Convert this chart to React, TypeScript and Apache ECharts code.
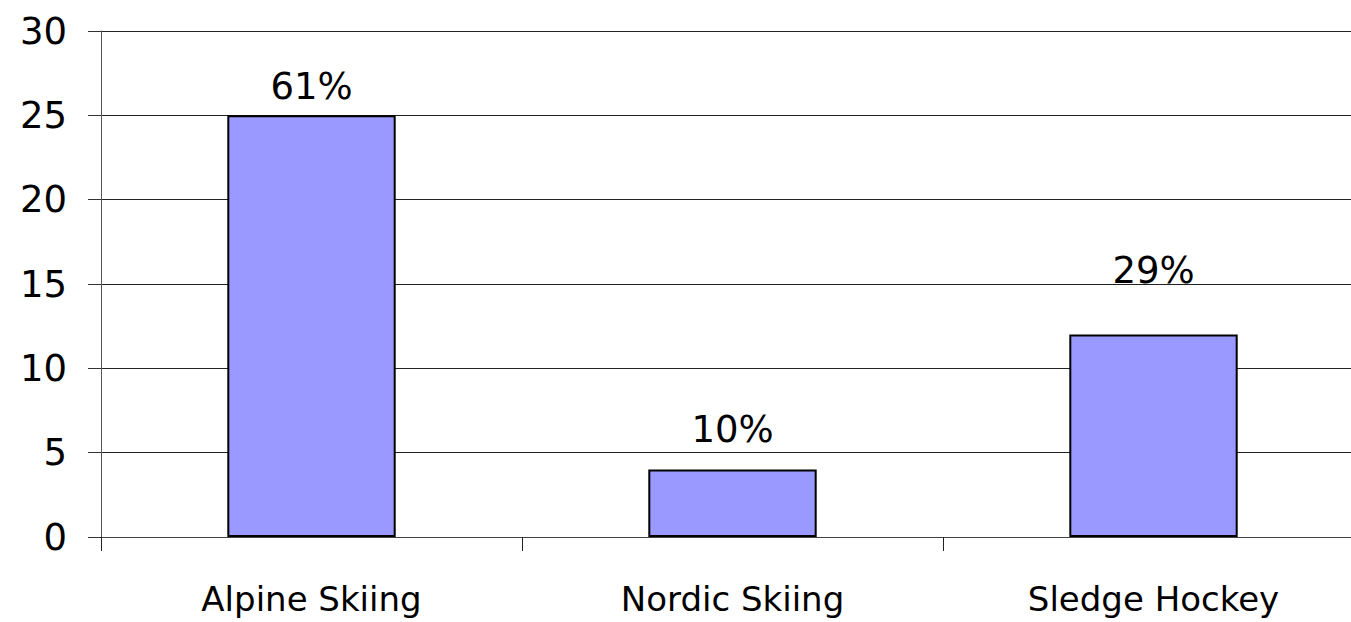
import React, { useEffect, useRef } from "react";
import * as echarts from "echarts";

const categories = ["Alpine Skiing", "Nordic Skiing", "Sledge Hockey"];
const values = [25, 4, 12];
const shareLabels = ["61%", "10%", "29%"];
const labelGaps = [10, 22, 46];
const yTicks = { min: 0, max: 30, interval: 5 };

export default function App() {
  const ref = useRef<HTMLDivElement>(null);
  useEffect(() => {
    if (!ref.current) return;
    const chart = echarts.init(ref.current, undefined, { renderer: "svg" });
    const font = "'DejaVu Sans', Verdana, sans-serif";
    chart.setOption({
      animation: false,
      backgroundColor: "#ffffff",
      grid: {
        left: 101,
        right: -13,
        top: 31,
        bottom: 85,
        outerBoundsMode: "none",
        containLabel: false,
      },
      xAxis: {
        type: "category",
        data: categories,
        boundaryGap: true,
        axisLine: { show: true, lineStyle: { color: "#444", width: 1 } },
        axisTick: { show: true, alignWithLabel: false, length: 14, lineStyle: { color: "#222" } },
        axisLabel: {
          color: "#000",
          fontFamily: font,
          fontSize: 34,
          margin: 45,
          interval: 0,
        },
        splitLine: { show: false },
      },
      yAxis: {
        type: "value",
        min: yTicks.min,
        max: yTicks.max,
        interval: yTicks.interval,
        axisLine: { show: true, lineStyle: { color: "#555", width: 1 } },
        axisTick: { show: true, inside: false, length: 13, lineStyle: { color: "#333" } },
        axisLabel: {
          color: "#000",
          fontFamily: font,
          fontSize: 37,
          margin: 34,
        },
        splitLine: { show: true, lineStyle: { color: "#222", width: 1 } },
      },
      series: [
        {
          type: "bar",
          barWidth: "40%",
          data: values.map((v, i) => ({
            value: v,
            label: {
              show: true,
              position: "top",
              distance: labelGaps[i],
              formatter: shareLabels[i],
              color: "#000",
              fontFamily: font,
              fontSize: 37,
            },
          })),
          itemStyle: {
            color: "#9999FF",
            borderColor: "#000",
            borderWidth: 2,
          },
        },
      ],
    });
    return () => chart.dispose();
  }, []);
  return (
    <div
      ref={ref}
      style={{ position: "fixed", left: 0, top: 0, width: 1351, height: 622 }}
    />
  );
}
